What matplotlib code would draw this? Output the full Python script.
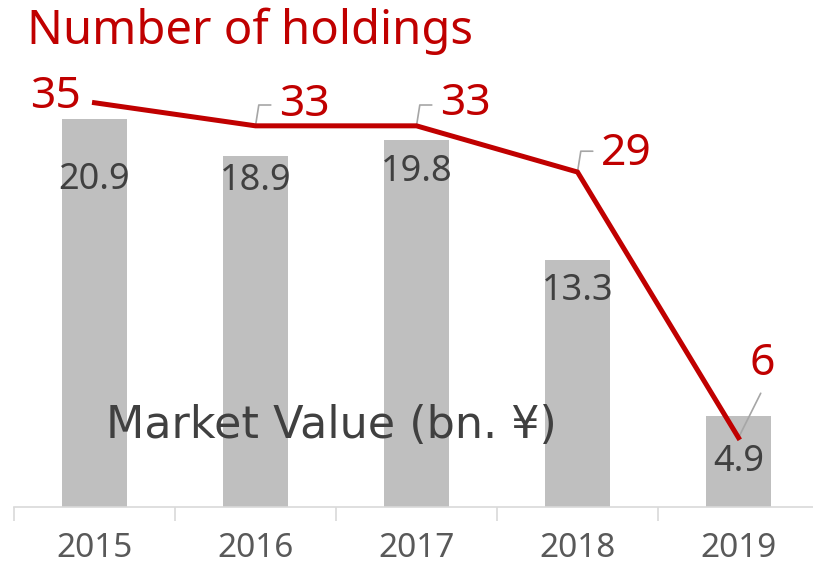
import matplotlib.pyplot as plt

plt.rcParams['font.family'] = ['Noto Sans', 'DejaVu Sans']

years = ["2015", "2016", "2017", "2018", "2019"]
market_value = [20.9, 18.9, 19.8, 13.3, 4.9]
holdings = [35, 33, 33, 29, 6]

RED = "#C00000"
BAR = "#BFBFBF"
DARK = "#404040"

fig = plt.figure(figsize=(8.13, 5.64), dpi=100)
# axes reaches a little past the right edge like the original
ax = fig.add_axes([14 / 813, 57 / 564, 805 / 813, 447 / 564])
ax2 = ax.twinx()

x = list(range(len(years)))
ax.bar(x, market_value, width=0.4, color=BAR, zorder=2)
ax.set_xlim(-0.5, len(years) - 0.5)
ax.set_ylim(0, 24.1)
ax2.set_ylim(0, 38.7)

# bar value labels (offset below bar top, in points)
bar_off = [-44, -18, -23, -22, -33]
for xi, v, off in zip(x, market_value, bar_off):
    ax.annotate(f"{v}", (xi, v), xytext=(0, off), textcoords="offset points",
                ha="center", va="center", fontsize=26, color=DARK, zorder=3)

ax2.plot(x, holdings, color=RED, lw=3.6, solid_joinstyle="miter", zorder=4)

# line labels: text offset and leader end (points)
lab_off = [(-28, 4), (35, 15), (35, 16), (35, 13), (17, 53)]
lead = [None, "angle", "angle", "angle", "straight"]
for xi, v, (dx, dy), ld in zip(x, holdings, lab_off, lead):
    ax2.annotate(str(v), (xi, v), xytext=(dx, dy), textcoords="offset points",
                 ha="center", va="center", fontsize=32, color=RED)
    if ld == "angle":
        ax2.annotate("", (xi, v), xytext=(11, 15), textcoords="offset points",
                     arrowprops=dict(arrowstyle="-", color="#A6A6A6", lw=1.2,
                                     shrinkA=0, shrinkB=0,
                                     connectionstyle="angle,angleA=0,angleB=81,rad=0"))
    elif ld == "straight":
        ax2.annotate("", (xi, v), xytext=(16, 32), textcoords="offset points",
                     arrowprops=dict(arrowstyle="-", color="#A6A6A6", lw=1.2,
                                     shrinkA=0, shrinkB=0))

for a in (ax, ax2):
    for s in a.spines.values():
        s.set_visible(False)
    a.set_yticks([])
ax.spines["bottom"].set_visible(True)
ax.spines["bottom"].set_color("#D9D9D9")
ax.spines["bottom"].set_linewidth(1.2)

ax.set_xticks(x)
ax.set_xticklabels(years, fontsize=24, color="#595959")
ax.tick_params(axis="x", which="major", length=0, pad=18)
ax.set_xticks([i - 0.5 for i in range(len(years) + 1)], minor=True)
ax.tick_params(axis="x", which="minor", length=10, width=1.2, color="#D9D9D9")

fig.text(331 / 813, 1 - 425 / 564, "Market Value (bn. ¥)", ha="center", va="center",
         fontsize=32, color=DARK, family=["DejaVu Sans"])
fig.text(27 / 813, 1 - 31 / 564, "Number of holdings", ha="left", va="center",
         fontsize=34, color=RED)

fig.savefig("out.png", dpi=100)
